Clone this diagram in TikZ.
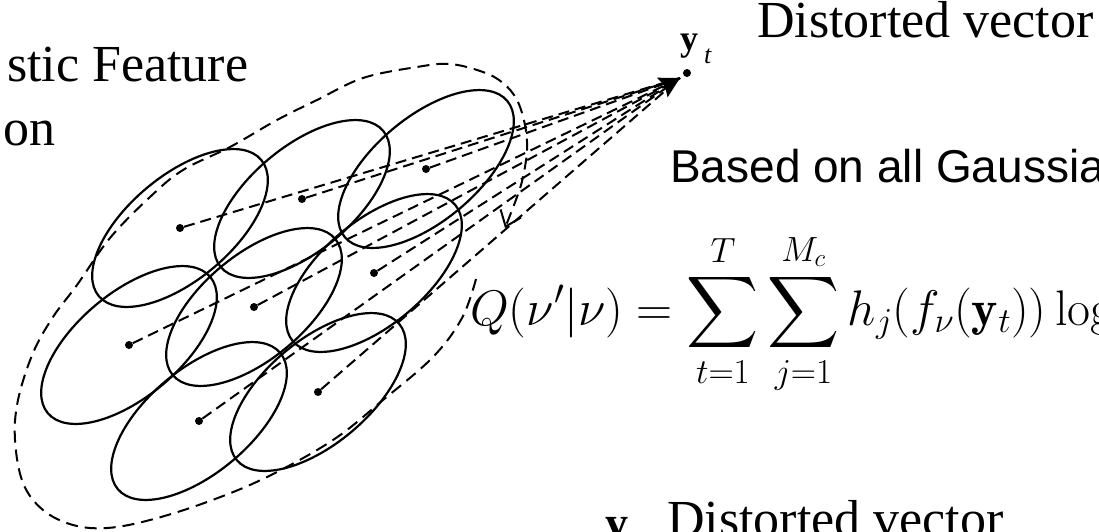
\documentclass[tikz,border=0pt]{standalone}
\usepackage{fix-cm}
\usepackage{amsmath}
\usepackage{amssymb}
\usepackage{fontspec}
\newfontfamily\timesrm{Liberation Serif}
\newfontfamily\arialsf{Liberation Sans}
\usepackage{tikz}
\usetikzlibrary{shapes,arrows.meta,positioning}

\begin{document}
\begin{tikzpicture}[
    x=1pt, y=-1pt,
    mean/.style={circle, fill=black, inner sep=0pt, minimum size=8pt},
    gauss/.style={line width=2.2pt},
    link/.style={line width=2pt, dash pattern=on 11pt off 6pt},
    hull/.style={line width=2pt, dash pattern=on 12pt off 7pt},
    slide/.style={anchor=base west, inner sep=0pt, font=\timesrm\fontsize{52}{62}\selectfont},
    note/.style={anchor=base west, inner sep=0pt, font=\arialsf\fontsize{46}{55}\selectfont}
]
\useasboundingbox (0,0) rectangle (1099,531);
\clip (0,0) rectangle (1099,531);

% title text (cut off on the left)
\node[slide] (title1) at (7,81) {stic Feature};
\node[slide] (title2) at (3,145) {on};

% gaussian means
\node[mean] (m1) at (180,228) {};
\node[mean] (m2) at (302,199) {};
\node[mean] (m3) at (426,169) {};
\node[mean] (m4) at (374,273) {};
\node[mean] (m5) at (254,307) {};
\node[mean] (m6) at (129,345) {};
\node[mean] (m7) at (318,392) {};
\node[mean] (m8) at (199,421) {};

% gaussian components
\draw[gauss, rotate around={40:(m1.center)}] (m1.center) ellipse [x radius=106, y radius=52];
\draw[gauss, rotate around={40:(m2.center)}] (m2.center) ellipse [x radius=106, y radius=52];
\draw[gauss, rotate around={40:(m3.center)}] (m3.center) ellipse [x radius=106, y radius=52];
\draw[gauss, rotate around={40:(m4.center)}] (m4.center) ellipse [x radius=106, y radius=52];
\draw[gauss, rotate around={40:(m5.center)}] (m5.center) ellipse [x radius=106, y radius=52];
\draw[gauss, rotate around={40:(m6.center)}] (m6.center) ellipse [x radius=106, y radius=52];
\draw[gauss, rotate around={40:(m7.center)}] (m7.center) ellipse [x radius=106, y radius=52];
\draw[gauss, rotate around={40:(m8.center)}] (m8.center) ellipse [x radius=106, y radius=52];

% distorted vector
\node[mean] (yt) at (687,73) {};
\coordinate (tip) at (680,78);
\node[anchor=base west, inner sep=0pt, font=\timesrm\fontsize{36}{40}\selectfont] (ylab) at (680,50)
    {\textbf{y}\hspace{6pt}\raisebox{-13pt}{\fontsize{26}{28}\selectfont\itshape t}};
\node[slide] (dist1) at (757,37) {Distorted vector};

\draw[link] (m1) -- (tip);
\draw[link] (m2) -- (tip);
\draw[link] (m3) -- (tip);
\draw[link] (m4) -- (tip);
\draw[link, -{Stealth[length=20pt,width=22pt,inset=3pt]}] (m5) -- (tip);
\draw[link] (m6) -- (tip);
\draw[link] (m7) -- (tip);
\draw[link] (m8) -- (tip);

% whole model
\draw[hull, -{Straight Barb[length=14pt,width=22pt]}] plot[smooth, tension=0.6] coordinates {
    (476,279) (462,318) (433,357) (383,400) (333,440) (267,477) (207,502) (150,520)
    (107,528) (73,525) (43,510) (23,483) (15,440) (18,400) (33,353) (53,317) (77,285)
    (110,238) (150,197) (183,170) (230,147) (277,120) (317,100) (363,78) (417,67)
    (450,64) (483,72) (503,83) (517,100) (525,125) (527,150) (523,177) (517,197) (505,228)};

\node[note] (based) at (670,182) {Based on all Gaussia};

\node[anchor=base west, inner sep=0pt, font=\fontsize{50}{60}\selectfont] (qfun) at (470,325)
    {$\displaystyle Q(\nu'|\nu) = \sum_{t=1}^{T}\sum_{j=1}^{M_c} h_j(f_\nu(\mathbf{y}_t))\log$};

% second distorted vector (cut off at the bottom)
\node[anchor=base west, inner sep=0pt, font=\timesrm\fontsize{46}{50}\selectfont] (ylab2) at (605,538) {\textbf{y}};
\node[slide] (dist2) at (667,536) {Distorted vector};
\end{tikzpicture}
\end{document}
